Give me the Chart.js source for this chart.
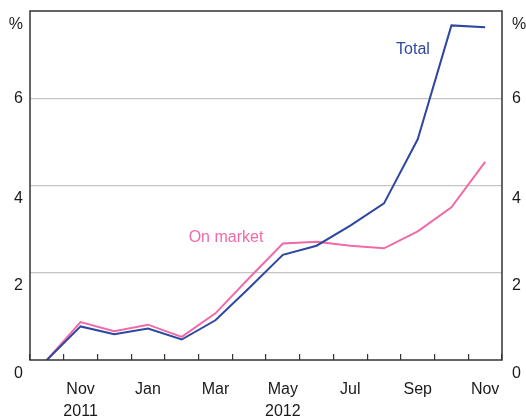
<!DOCTYPE html>
<html>
<head>
<meta charset="utf-8">
<script src="https://cdn.jsdelivr.net/npm/chart.js@4/dist/chart.umd.min.js"></script>
<style>
  html, body { margin: 0; padding: 0; background: #fff; }
  #wrap { width: 526px; height: 417px; position: relative; }
</style>
</head>
<body>
<div id="wrap"><canvas id="chart"></canvas></div>
<script>
// monthly, Oct 2011 - Nov 2012
const categories = ["2011-10", "2011-11", "2011-12", "2012-01", "2012-02", "2012-03", "2012-04",
  "2012-05", "2012-06", "2012-07", "2012-08", "2012-09", "2012-10", "2012-11"];
const xTickLabels = ["", ["Nov", "2011"], "", "Jan", "", "Mar", "", ["May", "2012"], "", "Jul", "", "Sep", "", "Nov"];

const totalShare = [0, 0.77, 0.59, 0.72, 0.47, 0.91, 1.65, 2.41, 2.62, 3.08, 3.59, 5.06, 7.67, 7.63];
const onMarketShare = [0, 0.87, 0.66, 0.81, 0.53, 1.07, 1.88, 2.67, 2.71, 2.62, 2.56, 2.95, 3.50, 4.54];

const yTicks = [0, 2, 4, 6, 8];
const yTickLabels = ["0", "2", "4", "6", "%"];

const BLUE = "#2d47a0";
const PINK = "#f06aa8";
const FONT = "'Liberation Sans', Arial, sans-serif";

// the original prints most y labels a little below their line;
// an empty first line pushes the text down half a line
const yLabel = (v) => {
  const i = yTicks.indexOf(v);
  if (i < 0) return "";
  return v === 6 ? yTickLabels[i] : ["", yTickLabels[i]];
};

// fixed axis sizes so the plot box sits where the original's does
const fitY = (w) => (s) => {
  s.width = w;
  s.paddingTop = 0;
  s.paddingBottom = 0;
};

// frame round the plot + series names
const framePlugin = {
  id: "frame",
  afterDatasetsDraw(chart) {
    const { ctx, chartArea: a } = chart;
    ctx.save();
    ctx.strokeStyle = "#333";
    ctx.lineWidth = 1.5;
    ctx.strokeRect(a.left, a.top, a.right - a.left, a.bottom - a.top);
    ctx.font = "16px " + FONT;
    ctx.textAlign = "center";
    ctx.textBaseline = "middle";
    ctx.fillStyle = BLUE;
    ctx.fillText("Total", 413, 50);
    ctx.fillStyle = PINK;
    ctx.fillText("On market", 226, 238);
    ctx.restore();
  }
};

new Chart(document.getElementById("chart"), {
  type: "line",
  data: {
    labels: categories,
    datasets: [
      {
        label: "Total",
        data: totalShare,
        borderColor: BLUE,
        borderWidth: 2,
        pointRadius: 0,
        tension: 0,
        yAxisID: "y"
      },
      {
        label: "On market",
        data: onMarketShare,
        borderColor: PINK,
        borderWidth: 2,
        pointRadius: 0,
        tension: 0,
        yAxisID: "y"
      }
    ]
  },
  options: {
    responsive: true,
    maintainAspectRatio: false,
    animation: false,
    layout: { padding: { top: 11, left: 0, right: 0, bottom: 0 } },
    plugins: {
      legend: { display: false },
      tooltip: { enabled: false }
    },
    scales: {
      x: {
        offset: true,
        border: { display: false },
        grid: {
          offset: true,
          drawOnChartArea: false,
          drawTicks: true,
          tickLength: -6,
          color: "#333",
          lineWidth: 1.2
        },
        ticks: {
          autoSkip: false,
          maxRotation: 0,
          padding: 25,
          color: "#1a1a1a",
          font: { family: FONT, size: 16, lineHeight: 1.35 },
          callback: (v, i) => xTickLabels[i]
        },
        afterFit: (s) => { s.height = 57; }
      },
      y: {
        position: "left",
        min: 0,
        max: 8,
        border: { display: false },
        afterBuildTicks: (s) => { s.ticks = yTicks.map(v => ({ value: v })); },
        grid: {
          drawTicks: false,
          color: (c) => (c.tick && c.tick.value > 0 && c.tick.value < 8) ? "#c4c4c4" : "rgba(0,0,0,0)",
          lineWidth: 1.2
        },
        ticks: {
          padding: 7,
          color: "#1a1a1a",
          font: { family: FONT, size: 16, lineHeight: 1.65 },
          callback: yLabel
        },
        afterFit: fitY(30)
      },
      y2: {
        position: "right",
        min: 0,
        max: 8,
        border: { display: false },
        afterBuildTicks: (s) => { s.ticks = yTicks.map(v => ({ value: v })); },
        grid: { display: false, drawTicks: false },
        ticks: {
          padding: 10,
          color: "#1a1a1a",
          font: { family: FONT, size: 16, lineHeight: 1.65 },
          callback: yLabel
        },
        afterFit: fitY(24)
      }
    }
  },
  plugins: [framePlugin]
});
</script>
</body>
</html>
